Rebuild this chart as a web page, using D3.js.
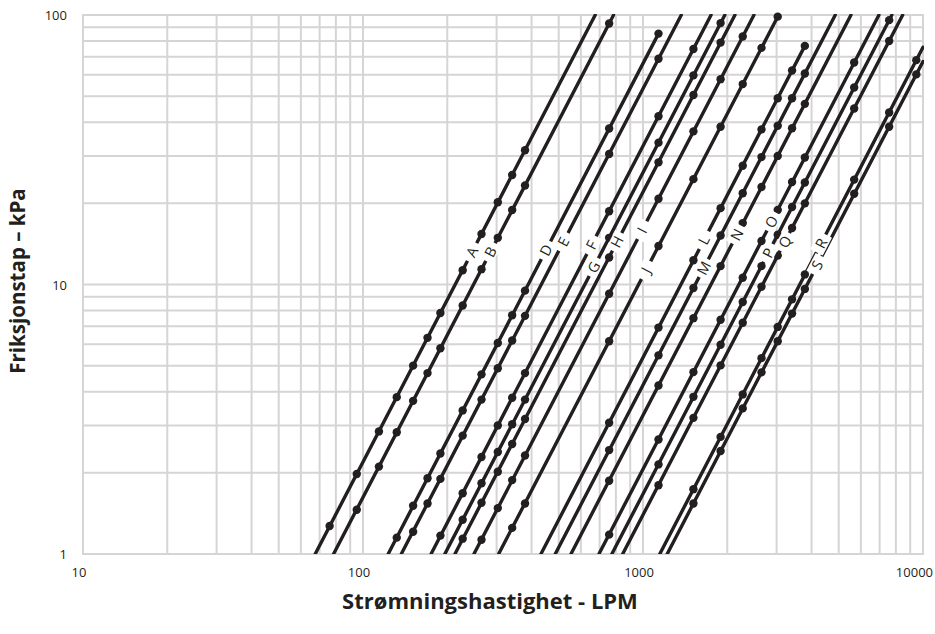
<!DOCTYPE html>
<html>
<head>
<meta charset="utf-8">
<script src="https://cdn.jsdelivr.net/npm/d3@7"></script>
<style>
  body { margin: 0; background: #fff; }
  svg { display: block; font-family: "Open Sans", sans-serif; }
</style>
</head>
<body>
<svg id="chart" width="935" height="634"></svg>
<script>
// series names, in order from left to right
var names = ["A", "B", "D", "E", "F", "G", "H", "I", "J", "L", "M", "N", "O", "P", "Q", "R", "S"];

// flow (LPM) where each line leaves 1 kPa
var startFlow = [67.5, 78.5, 123, 137, 175, 196, 213, 249, 305, 432, 486, 553, 696, 774, 846, 1148, 1220];

// where each line stops [LPM, kPa]
var endPoint = [[675, 100], [785, 100], [1136, 85.3], [1370, 100], [1750, 100], [1960, 100], [2130, 100],
  [2490, 100], [3050, 100], [3785, 76.8], [4860, 100], [5530, 100], [6960, 100], [7740, 100],
  [8460, 100], [10000, 75.9], [10000, 67.2]];

// kPa level where the letter sits on its line
var labelAt = [13.2, 13.2, 13.4, 14.4, 14.0, 11.6, 14.4, 15.9, 11.3, 14.6, 11.5, 15.3, 17.1, 13.1, 14.4, 14.2, 11.8];

// measured points [LPM, kPa]
var dotsA = [[76, 1.27], [95, 1.98], [114, 2.85], [132, 3.82], [151, 5.0], [170, 6.34], [189, 7.84], [227, 11.3], [265, 15.4], [303, 20.2], [341, 25.5], [379, 31.5]];
var dotsB = [[95, 1.46], [114, 2.11], [132, 2.83], [151, 3.70], [170, 4.69], [189, 5.80], [227, 8.36], [265, 11.4], [303, 14.9], [341, 18.9], [379, 23.3], [757, 93.0]];
var dotsD = [[132, 1.15], [151, 1.51], [170, 1.91], [189, 2.36], [227, 3.41], [265, 4.64], [303, 6.07], [341, 7.69], [379, 9.49], [757, 37.9], [1136, 85.3]];
var dotsE = [[151, 1.21], [170, 1.54], [189, 1.90], [227, 2.75], [265, 3.74], [303, 4.89], [341, 6.20], [379, 7.65], [757, 30.5], [1136, 68.8]];
var dotsF = [[189, 1.17], [227, 1.68], [265, 2.29], [303, 3.0], [341, 3.80], [379, 4.69], [757, 18.7], [1136, 42.1], [1514, 74.8]];
var dotsG = [[227, 1.34], [265, 1.83], [303, 2.39], [341, 3.03], [379, 3.74], [757, 14.9], [1136, 33.6], [1514, 59.7], [1893, 93.3]];
var dotsH = [[227, 1.14], [265, 1.55], [303, 2.02], [341, 2.56], [379, 3.17], [757, 12.6], [1136, 28.4], [1514, 50.5], [1893, 79.0]];
var dotsI = [[265, 1.13], [303, 1.48], [341, 1.88], [379, 2.32], [757, 9.24], [1136, 20.8], [1514, 37.0], [1893, 57.8], [2271, 83.2]];
var dotsJ = [[341, 1.25], [379, 1.54], [757, 6.16], [1136, 13.9], [1514, 24.6], [1893, 38.5], [2271, 55.4], [2650, 75.5], [3028, 98.6]];
var dotsL = [[757, 3.07], [1136, 6.92], [1514, 12.3], [1893, 19.2], [2271, 27.6], [2650, 37.6], [3028, 49.1], [3407, 62.2], [3785, 76.8]];
var dotsM = [[757, 2.43], [1136, 5.46], [1514, 9.70], [1893, 15.2], [2271, 21.8], [2650, 29.7], [3028, 38.8], [3407, 49.1], [3785, 60.7]];
var dotsN = [[757, 1.87], [1136, 4.22], [1514, 7.50], [1893, 11.7], [2271, 16.9], [2650, 23.0], [3028, 30.0], [3407, 38.0], [3785, 46.8]];
var dotsO = [[757, 1.18], [1136, 2.66], [1514, 4.73], [1893, 7.40], [2271, 10.6], [2650, 14.5], [3028, 18.9], [3407, 24.0], [3785, 29.6], [5678, 66.6]];
var dotsP = [[1136, 2.15], [1514, 3.83], [1893, 5.98], [2271, 8.61], [2650, 11.7], [3028, 15.3], [3407, 19.4], [3785, 23.9], [5678, 53.8], [7571, 95.7]];
var dotsQ = [[1136, 1.80], [1514, 3.20], [1893, 5.01], [2271, 7.21], [2650, 9.81], [3028, 12.8], [3407, 16.2], [3785, 20.0], [5678, 45.0], [7571, 80.1]];
var dotsR = [[1514, 1.74], [1893, 2.72], [2271, 3.91], [2650, 5.33], [3028, 6.96], [3407, 8.81], [3785, 10.9], [5678, 24.5], [7571, 43.5], [9464, 68.0]];
var dotsS = [[1514, 1.54], [1893, 2.41], [2271, 3.47], [2650, 4.72], [3028, 6.16], [3407, 7.80], [3785, 9.63], [5678, 21.7], [7571, 38.5], [9464, 60.2]];
var dotSets = [dotsA, dotsB, dotsD, dotsE, dotsF, dotsG, dotsH, dotsI, dotsJ, dotsL, dotsM, dotsN, dotsO, dotsP, dotsQ, dotsR, dotsS];

var xTicks = [10, 100, 1000, 10000];
var yTicks = [1, 10, 100];

var ink = "#231f20";
var grid = "#d5d5d5";

var svg = d3.select("#chart");
var x = d3.scaleLog().domain([10, 10000]).range([83, 923]);
var y = d3.scaleLog().domain([1, 100]).range([554, 15]);

// grid
svg.append("g")
  .selectAll("line")
  .data(y.ticks())
  .join("line")
  .attr("x1", x.range()[0]).attr("x2", x.range()[1])
  .attr("y1", function(d) { return y(d); }).attr("y2", function(d) { return y(d); })
  .attr("stroke", grid).attr("stroke-width", 2);

svg.append("g")
  .selectAll("line")
  .data(x.ticks())
  .join("line")
  .attr("x1", function(d) { return x(d); }).attr("x2", function(d) { return x(d); })
  .attr("y1", y.range()[1] - 1).attr("y2", y.range()[0] + 1)
  .attr("stroke", grid).attr("stroke-width", 2);

// tick labels
svg.append("g")
  .selectAll("text")
  .data(yTicks)
  .join("text")
  .attr("x", 67)
  .attr("y", function(d) { return y(d) + 5; })
  .attr("text-anchor", "end")
  .attr("font-size", 13)
  .attr("fill", ink)
  .text(function(d) { return d; });

svg.append("g")
  .selectAll("text")
  .data(xTicks)
  .join("text")
  .attr("x", function(d, i) { return i == xTicks.length - 1 ? 933 : x(d) - 4; })
  .attr("y", 577)
  .attr("text-anchor", function(d, i) { return i == xTicks.length - 1 ? "end" : "middle"; })
  .attr("font-size", 13)
  .attr("fill", ink)
  .text(function(d) { return d; });

// axis titles
svg.append("text")
  .attr("x", 490)
  .attr("y", 609)
  .attr("text-anchor", "middle")
  .attr("font-size", 22)
  .attr("font-weight", 700)
  .attr("fill", ink)
  .text("Strømningshastighet - LPM");

svg.append("text")
  .attr("transform", "translate(25,281) rotate(-90)")
  .attr("text-anchor", "middle")
  .attr("font-size", 20.5)
  .attr("font-weight", 700)
  .attr("fill", ink)
  .text("Friksjonstap – kPa");

// curves
svg.append("clipPath").attr("id", "plot")
  .append("rect").attr("x", 83).attr("y", 14).attr("width", 841).attr("height", 540);

var line = d3.line()
  .x(function(d) { return x(d[0]); })
  .y(function(d) { return y(d[1]); });

var series = names.map(function(n, i) {
  return { name: n, path: [[startFlow[i], 1], endPoint[i]], dots: dotSets[i], at: labelAt[i] };
});

svg.append("g")
  .attr("clip-path", "url(#plot)")
  .selectAll("path")
  .data(series)
  .join("path")
  .attr("d", function(d) { return line(d.path); })
  .attr("fill", "none")
  .attr("stroke", ink)
  .attr("stroke-width", 3.4)
  .attr("stroke-linecap", "round");

svg.append("g")
  .selectAll("g")
  .data(series)
  .join("g")
  .attr("fill", ink)
  .selectAll("circle")
  .data(function(d) { return d.dots; })
  .join("circle")
  .attr("cx", function(d) { return x(d[0]); })
  .attr("cy", function(d) { return y(d[1]); })
  .attr("r", 4.2);

// letters sitting on the lines
var tags = svg.append("g")
  .selectAll("g")
  .data(series)
  .join("g")
  .attr("transform", function(d) {
    var a = d.path[0], b = d.path[1];
    var t = Math.log(d.at / a[1]) / Math.log(b[1] / a[1]);
    var q = a[0] * Math.pow(b[0] / a[0], t);
    var ang = Math.atan2(y(b[1]) - y(a[1]), x(b[0]) - x(a[0])) * 180 / Math.PI;
    return "translate(" + x(q) + "," + y(d.at) + ") rotate(" + ang + ")";
  });

tags.append("rect")
  .attr("x", -10).attr("y", -7)
  .attr("width", 20).attr("height", 14)
  .attr("fill", "#fff");

tags.append("text")
  .attr("text-anchor", "middle")
  .attr("dy", "0.36em")
  .attr("font-size", 14.5)
  .attr("fill", ink)
  .text(function(d) { return d.name; });
</script>
</body>
</html>
